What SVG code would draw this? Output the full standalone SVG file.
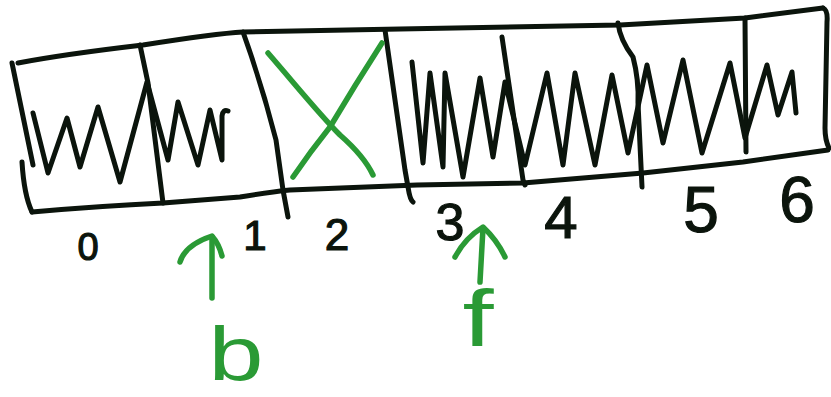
<svg xmlns="http://www.w3.org/2000/svg" width="831" height="397" viewBox="0 0 831 397">
<style>
.ink{fill:none;stroke:#0b140c;stroke-width:5;stroke-linecap:round;stroke-linejoin:round}
.grn{fill:none;stroke:#2a9a35;stroke-width:5.5;stroke-linecap:round;stroke-linejoin:round}
.num{font-family:"Liberation Sans","DejaVu Sans",sans-serif;fill:#0b140c;stroke:#0b140c;stroke-width:1.2;text-anchor:middle}
.lbl{font-family:"Liberation Sans","DejaVu Sans",sans-serif;fill:#2a9a35;text-anchor:middle}
</style>
<rect width="831" height="397" fill="#ffffff"/>
<g id="strip">
<path class="ink" d="M18,63 C60,55 100,50 143,45 C200,36 225,33 243,32 L400,29 L620,25 L745,18 L823,8"/>
<path class="ink" d="M823,8 Q828,10 827,22 L825,128 Q825,140 829,148"/>
<path class="ink" d="M32,212 Q100,206 163,203 L240,197 Q270,192 290,190 L417,185 L523,183 L643,173 L743,162 L828,150"/>
<path class="ink" d="M12,63 L33,165"/>
<path class="ink" d="M22,162 Q24,195 32,212"/>
</g>
<g id="dividers">
<path class="ink" d="M140,45 L148,83 L163,203"/>
<path class="ink" d="M243,32 Q262,85 276,140 L283,190 L288,217"/>
<path class="ink" d="M385,30 L405,170 L408,187 Q410,200 413,202"/>
<path class="ink" d="M502,37 L523,180 L525,185"/>
<path class="ink" d="M618,23 Q620,40 633,57 Q639,80 638,103 L642,187"/>
<path class="ink" d="M745,18 L746,152"/>
</g>
<g id="wave-left">
<path class="ink" d="M33,113 L48,173 L67,118 L80,167 L98,107 L120,182 L147,82 L168,160 L178,102 L198,165 L210,110 L222,160 L222,116 Q223,109 228,111"/>
</g>
<g id="cross">
<path class="grn" d="M268,53 C300,90 320,115 340,135 Q364,156 373,175"/>
<path class="grn" d="M382,43 Q355,85 330,127 Q310,152 293,177"/>
</g>
<g id="wave-right">
<path class="ink" d="M412,62 L423,163 L430,73 L443,167 L445,73 L463,177 L480,78 L493,157 L505,82 L525,165 L547,73 L563,165 L575,73 L595,165 L612,75 L628,153 L647,65 L663,143 L683,60 L702,153 L730,63 L745,138 L767,65 L778,115 L792,72 L796,113"/>
</g>
<g id="labels">
<text class="num" x="88" y="260" font-size="38">0</text>
<text class="num" x="255" y="250" font-size="42">1</text>
<text class="num" x="337" y="250" font-size="44">2</text>
<text class="num" x="450" y="240" font-size="52">3</text>
<text class="num" x="561" y="238" font-size="60">4</text>
<text class="num" x="701" y="232" font-size="64">5</text>
<text class="num" x="797" y="222" font-size="64">6</text>
</g>
<g id="connectors">
<path class="grn" d="M212,298 L212,237"/>
<path class="grn" d="M180,262 Q185,245 212,236 Q219,244 222,256"/>
<path class="grn" d="M480,282 L483,228"/>
<path class="grn" d="M455,257 Q465,238 483,227 Q497,240 505,257"/>
</g>
<g id="node-b"><text class="lbl" transform="translate(236,380) scale(1.3,1)" x="0" y="0" font-size="76">b</text></g>
<g id="node-f"><text class="lbl" transform="translate(478,346) scale(1.4,1)" x="0" y="0" font-size="80">f</text></g>
</svg>
